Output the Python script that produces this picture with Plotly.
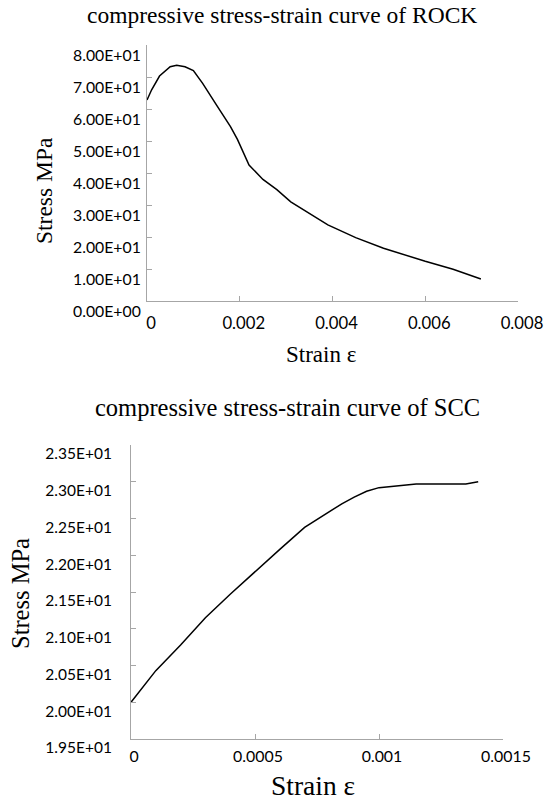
import plotly.graph_objects as go

# ---------------- data ----------------
rock_strain = [0, 0.0001, 0.00027, 0.0005, 0.00064, 0.00082, 0.001, 0.0012, 0.0015,
               0.0018, 0.00195, 0.0021, 0.0022, 0.0025, 0.0028, 0.0031, 0.0035,
               0.0039, 0.0045, 0.0051, 0.006, 0.0066, 0.0072]
rock_stress = [62.8, 66.0, 70.3, 73.2, 73.7, 73.2, 72.0, 68.0, 61.2,
               54.5, 50.5, 46.0, 42.5, 38.0, 34.8, 31.0, 27.3,
               23.8, 19.8, 16.5, 12.4, 9.9, 6.9]

scc_strain = [0, 0.0001, 0.0002, 0.0003, 0.0004, 0.0005, 0.0006, 0.0007, 0.00078,
              0.00085, 0.0009, 0.00095, 0.001, 0.00105, 0.00115, 0.00125, 0.00135, 0.0014]
scc_stress = [20.0, 20.43, 20.78, 21.15, 21.47, 21.78, 22.08, 22.38, 22.55,
              22.7, 22.79, 22.87, 22.92, 22.94, 22.97, 22.97, 22.97, 23.0]

rock_y_ticks = [0, 10, 20, 30, 40, 50, 60, 70, 80]
rock_x_ticks = [0, 0.002, 0.004, 0.006, 0.008]
rock_x_labels = ["0", "0.002", "0.004", "0.006", "0.008"]
scc_y_ticks = [19.5, 20.0, 20.5, 21.0, 21.5, 22.0, 22.5, 23.0, 23.5]
scc_x_ticks = [0, 0.0005, 0.001, 0.0015]
scc_x_labels = ["0", "0.0005", "0.001", "0.0015"]

titles = ["compressive stress-strain curve of ROCK", "compressive stress-strain curve of SCC"]
x_title = "Strain ε"
y_title = "Stress MPa"

# ---------------- figure ----------------
W, H = 546, 800
AX = "#a6a6a6"
TICKFONT = "Lato"
SERIF = "Liberation Serif, Times New Roman, serif"

fig = go.Figure()
fig.add_trace(go.Scatter(x=rock_strain, y=rock_stress, mode="lines",
                         line=dict(color="black", width=1.5), xaxis="x", yaxis="y",
                         showlegend=False, hoverinfo="skip"))
fig.add_trace(go.Scatter(x=scc_strain, y=scc_stress, mode="lines",
                         line=dict(color="black", width=1.5), xaxis="x2", yaxis="y2",
                         showlegend=False, hoverinfo="skip"))

def px(x):
    return x / W

def py(y):
    return 1 - y / H

def axis_style(size):
    return dict(showline=True, linecolor=AX, linewidth=1, ticks="inside", ticklen=5,
                tickcolor=AX, showgrid=False, zeroline=False, automargin=False,
                tickfont=dict(family=TICKFONT, size=size, color="#000000"))

fig.update_layout(
    width=W, height=H, margin=dict(l=0, r=0, t=0, b=0, autoexpand=False),
    paper_bgcolor="white", plot_bgcolor="white",
    xaxis=dict(domain=[px(147), px(518)], range=[0, 0.008], anchor="y",
               tickvals=rock_x_ticks, ticktext=rock_x_labels,
               ticklabelshift=4, ticklabelstandoff=7, **axis_style(16.7)),
    yaxis=dict(domain=[py(301), py(45)], range=[0, 80], anchor="x",
               tickvals=rock_y_ticks, ticktext=[f"{v:.2E}" for v in rock_y_ticks],
               ticklabelshift=10, ticklabelstandoff=2, **axis_style(15.8)),
    xaxis2=dict(domain=[px(131), px(503)], range=[0, 0.0015], anchor="y2",
                tickvals=scc_x_ticks, ticktext=scc_x_labels,
                ticklabelshift=3, ticklabelstandoff=3, **axis_style(15.9)),
    yaxis2=dict(domain=[py(739), py(445)], range=[19.5, 23.5], anchor="x2",
                tickvals=scc_y_ticks, ticktext=[f"{v:.2E}" for v in scc_y_ticks],
                ticklabelshift=9, ticklabelstandoff=15, **axis_style(15.5)),
)

ann = [
    (titles[0], 282, 15, 23.5, 0),
    (y_title, 44, 191, 23.5, -90),
    (x_title, 321, 354, 23, 0),
    (titles[1], 287, 407, 24.5, 0),
    (y_title, 20, 594, 24.5, -90),
    (x_title, 313, 785, 27.5, 0),
]
for text, x, y, size, ang in ann:
    fig.add_annotation(text=text, xref="paper", yref="paper", x=px(x), y=py(y),
                       xanchor="center", yanchor="middle", showarrow=False,
                       textangle=ang, font=dict(family=SERIF, size=size, color="black"))

fig.write_html("out.html")
